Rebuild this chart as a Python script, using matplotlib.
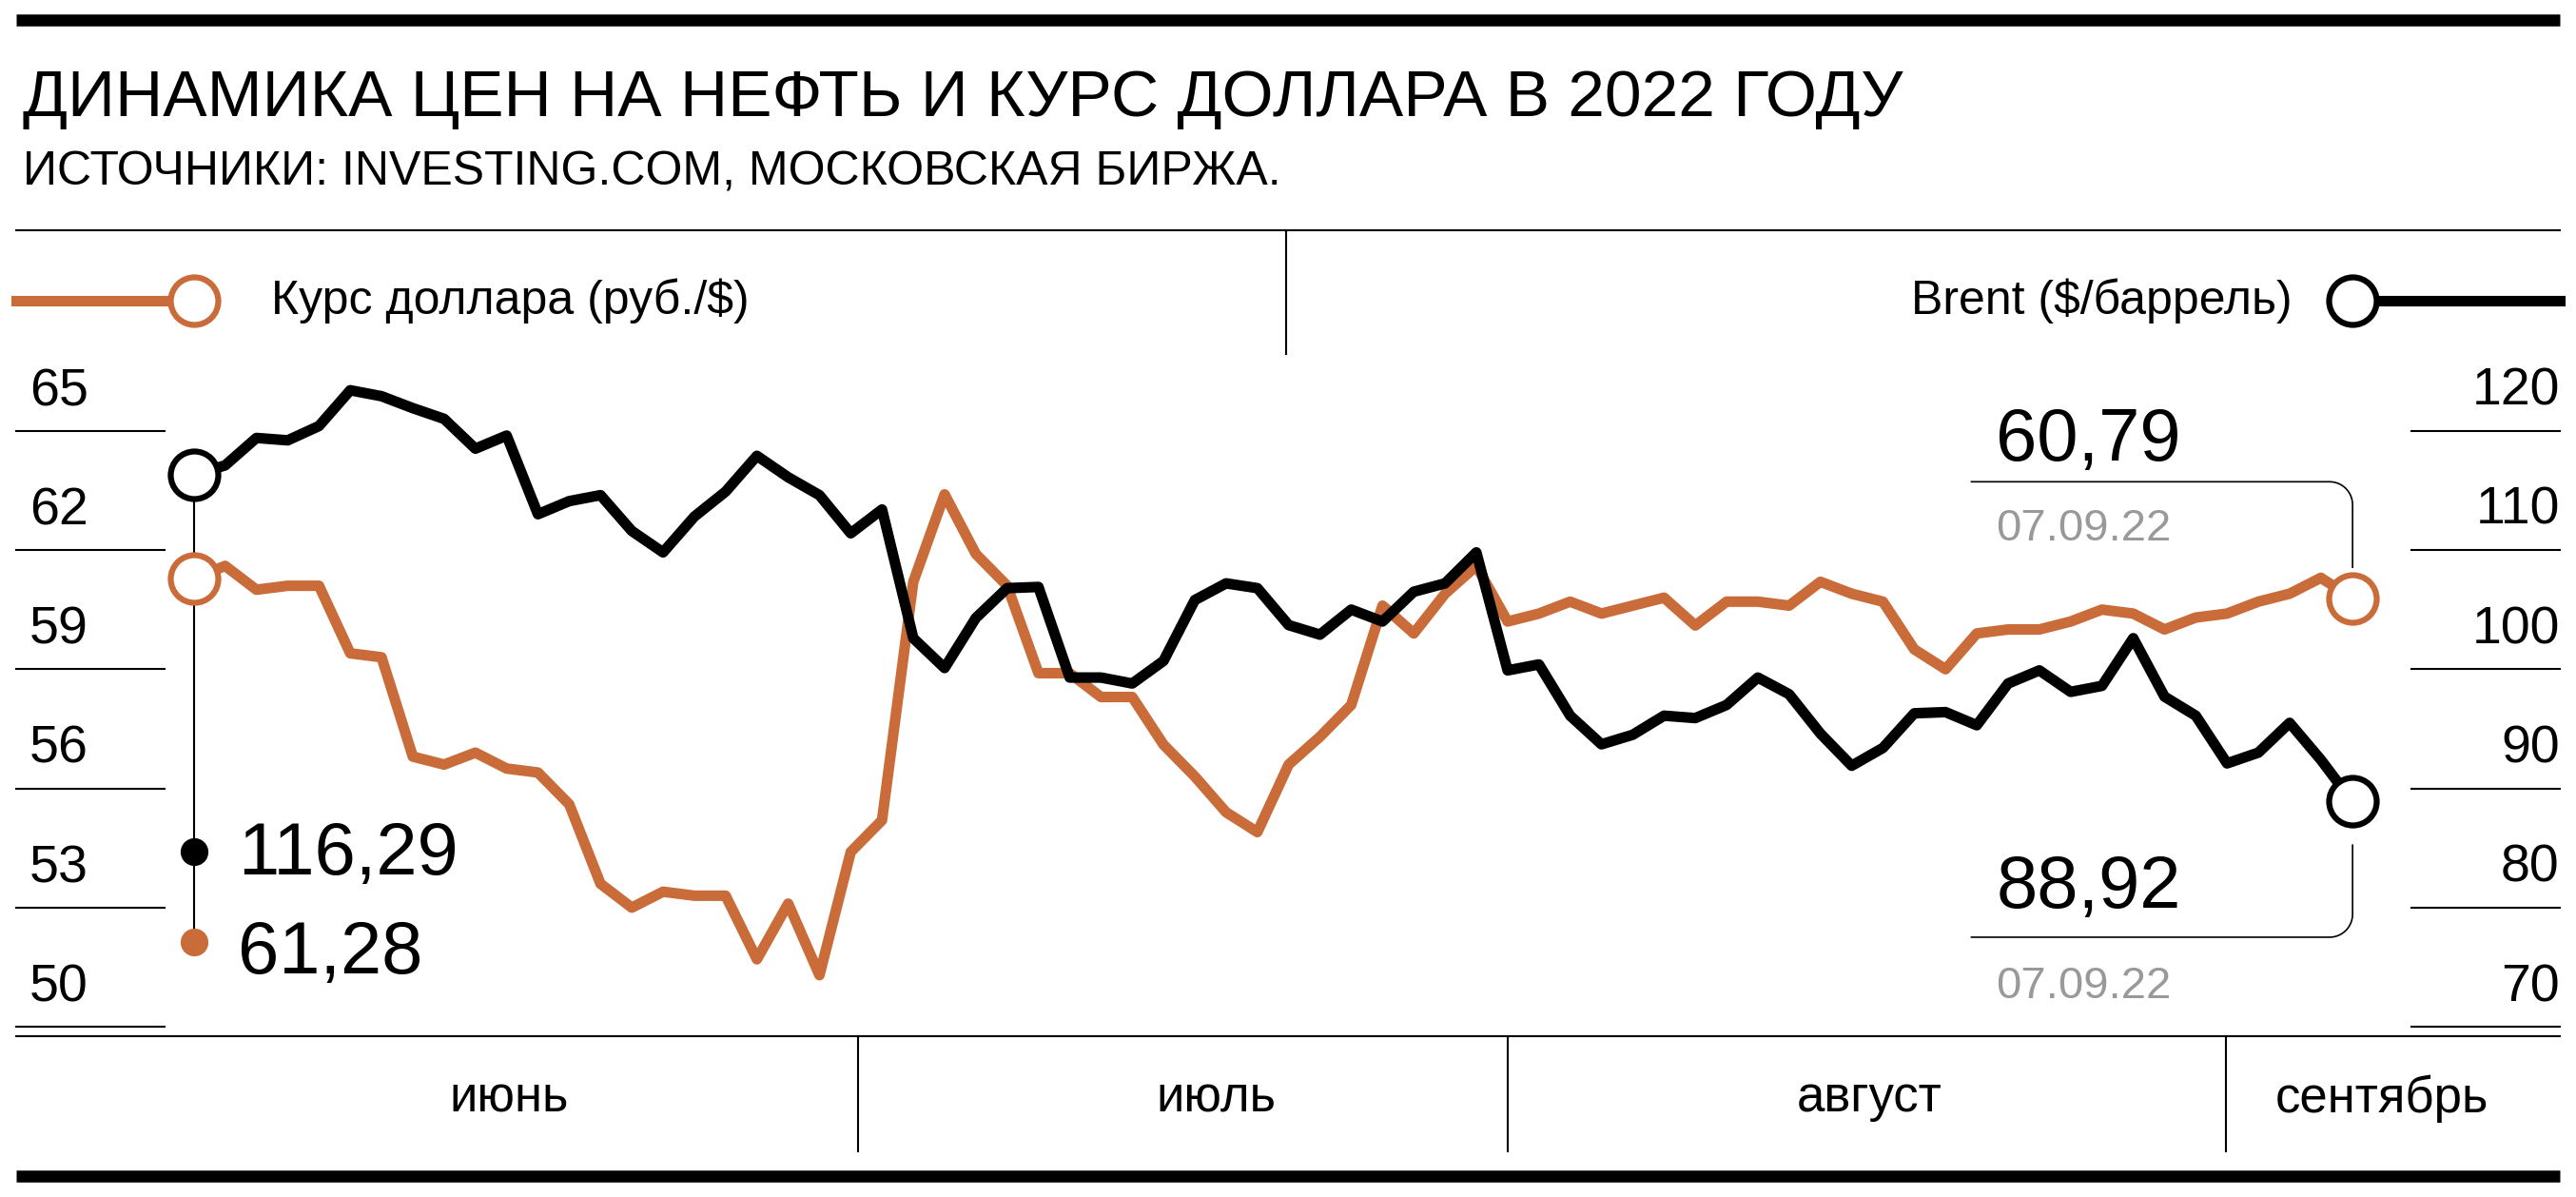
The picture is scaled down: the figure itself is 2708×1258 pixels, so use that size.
import matplotlib
matplotlib.use("Agg")
import matplotlib.pyplot as plt
import numpy as np

plt.rcParams['font.family'] = ['Liberation Sans', 'DejaVu Sans']

title = "ДИНАМИКА ЦЕН НА НЕФТЬ И КУРС ДОЛЛАРА В 2022 ГОДУ"
subtitle = "ИСТОЧНИКИ: INVESTING.COM, МОСКОВСКАЯ БИРЖА."
usd_label = "Курс доллара (руб./$)"
brent_label = "Brent ($/баррель)"
months = ["июнь", "июль", "август", "сентябрь"]
rub_ticks = [65, 62, 59, 56, 53, 50]
brent_ticks = [120, 110, 100, 90, 80, 70]

brent = [116.29,117.1,119.4,119.2,120.4,123.4,122.9,121.9,121.0,118.5,
         119.6,113.0,114.1,114.6,111.6,109.8,112.8,114.9,117.9,116.1,
         114.6,111.4,113.4,102.6,100.1,104.3,106.8,106.9,99.3,99.3,
         98.8,100.7,105.8,107.2,106.8,103.7,102.9,105.0,104.0,106.5,
         107.2,109.8,99.9,100.4,96.1,93.7,94.5,96.1,95.9,97.0,
         99.3,97.9,94.6,91.9,93.4,96.3,96.4,95.3,98.8,99.9,
         98.1,98.6,102.6,97.7,96.1,92.1,93.0,95.5,92.4,88.92]
usd = [61.28,61.6,61.0,61.1,61.1,59.4,59.3,56.8,56.6,56.9,
       56.5,56.4,55.6,53.6,53.0,53.4,53.3,53.3,51.7,53.1,
       51.3,54.4,55.2,61.2,63.4,61.9,61.1,58.9,58.9,58.3,
       58.3,57.1,56.3,55.4,54.9,56.6,57.3,58.1,60.6,59.9,
       60.9,61.6,60.2,60.4,60.7,60.4,60.6,60.8,60.1,60.7,
       60.7,60.6,61.2,60.9,60.7,59.5,59.0,59.9,60.0,60.0,
       60.2,60.5,60.4,60.0,60.3,60.4,60.7,60.9,61.3,60.79]
start_brent, start_usd = "116,29", "61,28"
end_brent, end_usd, end_date = "88,92", "60,79", "07.09.22"

ORANGE = "#C96C3A"
W, H = 1568, 728
fig = plt.figure(figsize=(27.08, 12.58), dpi=100)

ov = fig.add_axes([0, 0, 1, 1])
ov.set_xlim(0, W); ov.set_ylim(H, 0); ov.axis('off')

ax = fig.add_axes([0, 0, 1, 1]); ax.axis('off')
ax.patch.set_alpha(0)
step = 19.04
ax.set_xlim(-118/step, (W-118)/step)
k = 3/72.5
ax.set_ylim(65-(H-262)*k, 65+262*k)
ax2 = ax.twinx(); ax2.axis('off')
kb = 10/72.5
ax2.set_ylim(120-(H-262)*kb, 120+262*kb)

LW = 8
MS = 36
x = np.arange(len(usd))
ov.plot([10, 1558], [12, 12], color='black', lw=9, solid_capstyle='butt')
ov.plot([10, 1558], [715, 715], color='black', lw=9, solid_capstyle='butt')
ov.plot([10, 1558], [140, 140], color='black', lw=1.5)
ov.plot([10, 1558], [630, 630], color='black', lw=1.5)
ov.plot([783, 783], [140, 215], color='black', lw=1.5)
for xs in [522, 918, 1355]:
    ov.plot([xs, xs], [630, 700], color='black', lw=1.5)
for xm, m in zip([310, 740, 1138, 1450], months):
    ov.text(xm, 668, m, fontsize=38, ha='center', va='center')
ov.text(14, 60, title, fontsize=50, va='center')
ov.text(14, 105, subtitle, fontsize=36, va='center')

ov.plot([10, 118], [183, 183], color=ORANGE, lw=LW)
ov.plot(118, 183, 'o', ms=MS, mfc='white', mec=ORANGE, mew=4.5)
ov.text(165, 183, usd_label, fontsize=36, va='center')
ov.plot([1432, 1558], [183, 183], color='black', lw=LW)
ov.plot(1432, 183, 'o', ms=MS, mfc='white', mec='black', mew=4.5)
ov.text(1395, 183, brent_label, fontsize=36, va='center', ha='right')

for v, b in zip(rub_ticks, brent_ticks):
    ax.plot([-108/step, -18/step], [v, v], color='black', lw=1.5, clip_on=False)
    ax.text(-100/step, v+0.35, str(v), fontsize=40, va='bottom', ha='left')
    ax2.plot([1350/step, 1440/step], [b, b], color='black', lw=1.5, clip_on=False)
    ax2.text(1440/step, b+1.2, str(b), fontsize=40, va='bottom', ha='right')

ax.plot(x, usd, color=ORANGE, lw=LW, solid_joinstyle='round', zorder=3)
ax2.plot(x, brent, color='black', lw=LW, solid_joinstyle='round', zorder=3)

ov.plot([118, 118], [290, 573], color='black', lw=1.5, zorder=1)
ax.plot(0, usd[0], 'o', ms=MS, mfc='white', mec=ORANGE, mew=4.5, zorder=5)
ax2.plot(0, brent[0], 'o', ms=MS, mfc='white', mec='black', mew=4.5, zorder=5)
ov.plot(118, 518, 'o', ms=20, color='black')
ov.plot(118, 573, 'o', ms=20, color=ORANGE)
ov.text(145, 520, start_brent, fontsize=56, va='center')
ov.text(145, 580, start_usd, fontsize=56, va='center')

n = len(usd) - 1
ax.plot(n, usd[-1], 'o', ms=MS, mfc='white', mec=ORANGE, mew=4.5, zorder=5)
ax2.plot(n, brent[-1], 'o', ms=MS, mfc='white', mec='black', mew=4.5, zorder=5)
t = np.linspace(0, np.pi/2, 20)
r = 14
ov.plot(np.r_[1200, 1418 + r*np.sin(t), 1432], np.r_[293, 293 + r - r*np.cos(t), 345], color='black', lw=1.2)
ov.plot(np.r_[1200, 1418 + r*np.sin(t), 1432], np.r_[570, 570 - r + r*np.cos(t), 514], color='black', lw=1.2)
ov.text(1215, 268, end_usd, fontsize=56, va='center')
ov.text(1215, 322, end_date, fontsize=34, va='center', color='#999999')
ov.text(1215, 540, end_brent, fontsize=56, va='center')
ov.text(1215, 600, end_date, fontsize=34, va='center', color='#999999')

fig.savefig("out.png", dpi=100)
